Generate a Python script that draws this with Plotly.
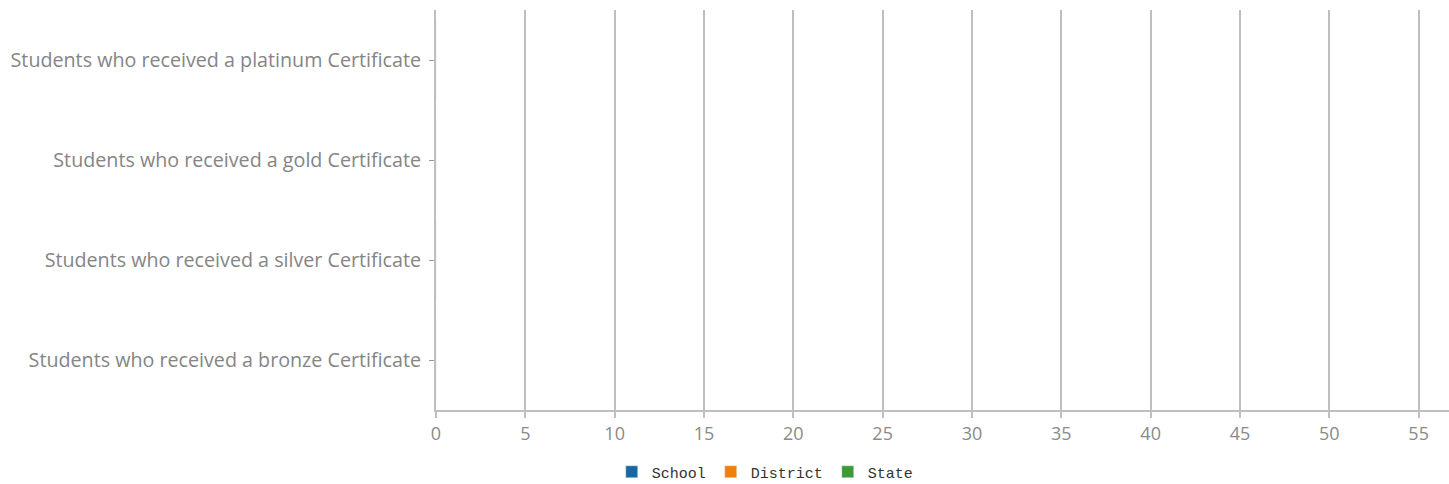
import plotly.graph_objects as go

categories = [
    "Students who received a bronze Certificate",
    "Students who received a silver Certificate",
    "Students who received a gold Certificate",
    "Students who received a platinum Certificate",
]
series_names = ["School", "District", "State"]
school = [0, 0, 0, 0]
district = [0, 0, 0, 0]
state = [0, 0, 0, 0]
x_ticks = [0, 5, 10, 15, 20, 25, 30, 35, 40, 45, 50, 55]

colors = ["#1767a3", "#f07f0b", "#3d9b35"]
values = [school, district, state]

fig = go.Figure()
for name, vals, c in zip(series_names, values, colors):
    fig.add_trace(go.Bar(y=categories, x=vals, name=name, orientation="h",
                         marker=dict(color=c)))

grid = "#bfbfbf"
fig.update_layout(
    width=1449, height=484,
    margin=dict(l=436, r=0, t=10, b=74, autoexpand=False),
    plot_bgcolor="white", paper_bgcolor="white",
    barmode="group",
    showlegend=True,
    legend=dict(orientation="h", x=0.325, xanchor="center", y=-0.155, yanchor="middle",
                font=dict(family="Liberation Mono", size=15, color="#333"),
                itemwidth=30, tracegroupgap=0),
    xaxis=dict(range=[0, 56.7], tickvals=x_ticks, showgrid=True, gridcolor=grid,
               gridwidth=2, showline=True, linecolor=grid, linewidth=2,
               ticks="outside", ticklen=6, tickwidth=2, tickcolor=grid,
               tickfont=dict(family="Open Sans", size=18, color="#8a8a8a"),
               zeroline=False, fixedrange=True),
    yaxis=dict(categoryorder="array", categoryarray=categories, showgrid=False,
               showline=True, linecolor=grid, linewidth=2, ticks="outside",
               ticklen=5, tickwidth=1, tickcolor="#999",
               tickfont=dict(family="Open Sans", size=19.7, color="#858585"),
               ticklabelstandoff=4,
               range=[-0.5, 3.5], fixedrange=True),
)
fig.write_html("out.html", config={"displayModeBar": False},
               post_script="document.body.style.margin='0';")
